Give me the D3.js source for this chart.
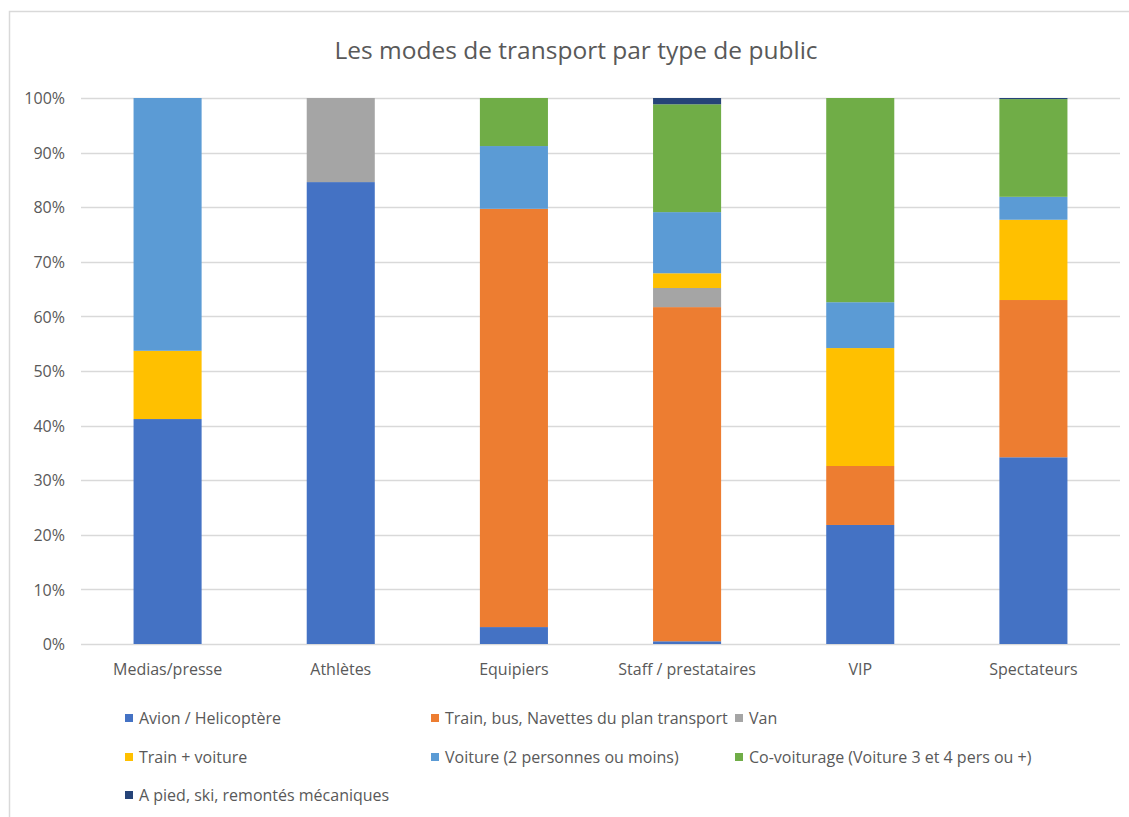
<!DOCTYPE html>
<html>
<head>
<meta charset="utf-8">
<script src="https://cdn.jsdelivr.net/npm/d3@7"></script>
<style>
  body { margin: 0; background: #fff; }
  svg text { font-family: "Open Sans", "Liberation Sans", sans-serif; fill: #595959; }
</style>
</head>
<body>
<div id="chart"></div>
<script>
// categories (type de public)
var publics = ["Medias/presse", "Athlètes", "Equipiers", "Staff / prestataires", "VIP", "Spectateurs"];

// series names, in stacking order (bottom to top)
var modes = [
  "Avion / Helicoptère",
  "Train, bus, Navettes du plan transport",
  "Van",
  "Train + voiture",
  "Voiture (2 personnes ou moins)",
  "Co-voiturage (Voiture 3 et 4 pers ou +)",
  "A pied, ski, remontés mécaniques"
];

// share of each mode per public, in %
var avion      = [41.2, 84.6,  3.1,  0.5, 21.8, 34.2];
var trainBus   = [ 0,    0,   76.6, 61.2, 10.8, 28.8];
var van        = [ 0,   15.4,  0,    3.5,  0,    0  ];
var trainVoit  = [12.5,  0,    0,    2.7, 21.6, 14.7];
var voiture    = [46.3,  0,   11.5, 11.2,  8.4,  4.2];
var covoit     = [ 0,    0,    8.8, 19.75, 37.4, 17.9];
var aPied      = [ 0,    0,    0,    1.15, 0,    0.2];

var yTicks = [0, 0.1, 0.2, 0.3, 0.4, 0.5, 0.6, 0.7, 0.8, 0.9, 1];

var colors = ["#4472C4", "#ED7D31", "#A5A5A5", "#FFC000", "#5B9BD5", "#70AD47", "#264478"];

var series = [avion, trainBus, van, trainVoit, voiture, covoit, aPied];

var width = 1129, height = 817;
var margin = {left: 81, right: 9, top: 98, bottom: 173};

var svg = d3.select("#chart").append("svg")
  .attr("width", width)
  .attr("height", height);

// chart frame
svg.append("rect")
  .attr("x", 9.5).attr("y", 11.5)
  .attr("width", 1140).attr("height", 830)
  .attr("fill", "none")
  .attr("stroke", "#d9d9d9")
  .attr("stroke-width", 1.5);

// build rows for d3.stack
var rows = publics.map(function(p, i) {
  var r = {public: p};
  modes.forEach(function(m, j) { r[m] = series[j][i]; });
  return r;
});

var stacked = d3.stack()
  .keys(modes)
  .offset(d3.stackOffsetExpand)(rows);

var x = d3.scaleBand()
  .domain(publics)
  .range([margin.left, width - margin.right])
  .paddingInner(0.607)
  .paddingOuter(0.3035);

var y = d3.scaleLinear()
  .domain([0, 1])
  .range([height - margin.bottom, margin.top]);

// gridlines
svg.append("g")
  .selectAll("line")
  .data(yTicks)
  .enter()
  .append("line")
  .attr("x1", margin.left)
  .attr("x2", width - margin.right)
  .attr("y1", function(d) { return Math.round(y(d)) + 0.5; })
  .attr("y2", function(d) { return Math.round(y(d)) + 0.5; })
  .attr("stroke", "#d9d9d9")
  .attr("stroke-width", 1.5);

// y axis labels
var yAxis = d3.axisLeft(y)
  .tickValues(yTicks)
  .tickFormat(d3.format(".0%"))
  .tickSize(0)
  .tickPadding(16);

svg.append("g")
  .attr("transform", "translate(" + margin.left + ",0)")
  .call(yAxis)
  .call(function(g) { g.select(".domain").remove(); })
  .selectAll("text")
  .style("font-size", "16px")
  .attr("dy", "0.35em");

// x axis labels
var xAxis = d3.axisBottom(x).tickSize(0).tickPadding(20);
svg.append("g")
  .attr("transform", "translate(0," + (height - margin.bottom) + ")")
  .call(xAxis)
  .call(function(g) { g.select(".domain").remove(); })
  .selectAll("text")
  .style("font-size", "16px");

// bars
svg.append("g")
  .selectAll("g")
  .data(stacked)
  .enter()
  .append("g")
  .attr("fill", function(d, i) { return colors[i]; })
  .selectAll("rect")
  .data(function(d) { return d; })
  .enter()
  .append("rect")
  .attr("x", function(d) { return x(d.data.public); })
  .attr("y", function(d) { return y(d[1]); })
  .attr("height", function(d) { return y(d[0]) - y(d[1]); })
  .attr("width", x.bandwidth());

// title
svg.append("text")
  .attr("x", 576)
  .attr("y", 59)
  .attr("text-anchor", "middle")
  .style("font-size", "24.5px")
  .text("Les modes de transport par type de public");

// legend
var legendCols = [125, 431, 735];
var legendRows = [718, 757, 795];
var legend = svg.append("g")
  .selectAll("g")
  .data(modes)
  .enter()
  .append("g")
  .attr("transform", function(d, i) {
    return "translate(" + legendCols[i % 3] + "," + legendRows[Math.floor(i / 3)] + ")";
  });

legend.append("rect")
  .attr("x", 0).attr("y", -4)
  .attr("width", 8).attr("height", 8)
  .attr("fill", function(d, i) { return colors[i]; });

legend.append("text")
  .attr("x", 14)
  .attr("dy", "0.35em")
  .style("font-size", "16px")
  .text(function(d) { return d; });
</script>
</body>
</html>
